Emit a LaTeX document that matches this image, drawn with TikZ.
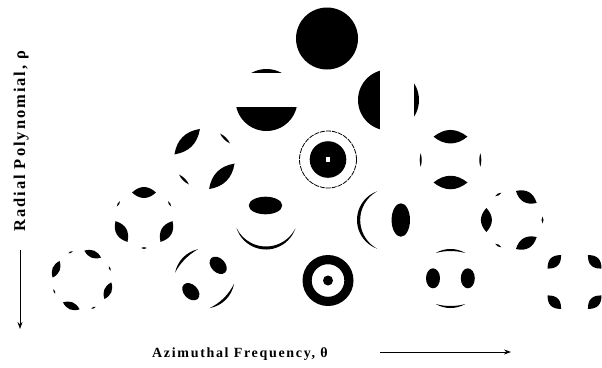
\documentclass[tikz,border=0pt]{standalone}
\usepackage{fontspec}
\setmainfont{Liberation Serif}
\newfontfamily\lblfont[LetterSpace=12]{Liberation Serif}
\usetikzlibrary{arrows.meta}

% tangential lens: disc centre x, y, polar angle (clockwise, image), distance, length, width
\newcommand\plens[6]{%
  \fill[shift={(#1,#2)},rotate=-#3,shift={(#4,0)},rotate=90] (-#5/2,0) .. controls (-#5/6,#6*2/3) and (#5/6,#6*2/3) .. (#5/2,0)
     .. controls (#5/6,-#6*2/3) and (-#5/6,-#6*2/3) .. cycle;}
% crescent at the rim: disc centre x, y, direction (clockwise, image), radius, half span, thickness
\newcommand\cresc[6]{%
  \pgfmathsetmacro\cresE{((#4-#6)^2-(#4)^2)/(2*(#4-#6-#4*cos(#5)))}%
  \pgfmathsetmacro\cresR{#4-#6-\cresE}%
  \pgfmathsetmacro\cresB{atan2(#4*sin(#5),#4*cos(#5)-\cresE)}%
  \fill[shift={(#1,#2)},rotate=-#3] (#5:#4) arc[start angle=#5,end angle=-#5,radius=#4]
     arc[start angle=-\cresB,end angle=\cresB,radius=\cresR] -- cycle;}

\tikzset{
  axislabel/.style={font=\lblfont\bfseries\fontsize{14}{16}\selectfont, inner sep=0pt},
  vaxislabel/.style={font=\lblfont\bfseries\fontsize{16.5}{18}\selectfont, inner sep=0pt},
  axisarrow/.style={line width=0.8pt, -{Stealth[length=7pt,width=5pt]}},
}

\begin{document}
\begin{tikzpicture}[x=1pt,y=-1pt]
\fill[white] (0,0) rectangle (602,367);
\useasboundingbox (0,0) rectangle (602,367);

% n = 0
\fill (327,38.5) circle (31);

% n = 1
\begin{scope}
  \clip (266.5,100) circle (31);
  \fill (230,107) rectangle (300,140);
  \fill (230,60) rectangle (300,73);
\end{scope}
\begin{scope}
  \clip (388.5,100) circle (30.5);
  \fill (350,60) rectangle (380,140);
  \fill (414,60) rectangle (430,140);
\end{scope}

% n = 2
\plens{204.5}{159}{-135}{24.5}{36}{13}
\plens{204.5}{159}{45}{24.5}{36}{13}
\plens{204.5}{159}{-45}{29}{14}{2.5}
\plens{204.5}{159}{135}{29}{14}{2.5}

\fill (328,159.5) circle (18.3);
\fill[white] (325.8,157.3) rectangle (330.2,161.7);
\draw[line width=0.8pt, dash pattern=on 5pt off 1pt] (328,159.5) circle (28.5);

\plens{450.5}{160}{-90}{23.3}{34}{13.5}
\plens{450.5}{160}{90}{22.5}{34}{13.5}
\plens{450.5}{160}{0}{29.8}{13.7}{2}
\plens{450.5}{160}{180}{29.8}{13.7}{2}

% n = 3
\plens{144}{218.5}{-90}{26}{24}{11}
\plens{144}{218.5}{150}{26}{24}{11}
\plens{144}{218.5}{30}{26}{24}{11}
\plens{144}{218.5}{-30}{29.5}{6}{1.8}
\plens{144}{218.5}{-150}{29.5}{6}{1.8}
\plens{144}{218.5}{90}{29.5}{6}{1.8}

\fill (265.5,205.5) ellipse [x radius=16.7, y radius=8.8];
\cresc{266}{218.5}{90}{31}{72}{3}

\fill (400.8,220) ellipse [x radius=9.2, y radius=16.7];
\cresc{387.5}{220}{180}{30.5}{70}{3.2}

\plens{513}{220}{180}{26.6}{24}{11}
\plens{513}{220}{-60}{26.6}{24}{11}
\plens{513}{220}{60}{26.6}{24}{11}
\plens{513}{220}{0}{29.5}{7}{2}
\plens{513}{220}{120}{29.5}{7}{2}
\plens{513}{220}{-120}{29.5}{7}{2}

% n = 4
\plens{82}{280}{-67.5}{28}{18}{7.5}
\plens{82}{280}{-157.5}{28}{18}{7.5}
\plens{82}{280}{112.5}{28}{18}{7.5}
\plens{82}{280}{22.5}{28}{18}{7.5}
\plens{82}{280}{-22.5}{30}{5}{1.6}
\plens{82}{280}{-112.5}{30}{5}{1.6}
\plens{82}{280}{157.5}{30}{5}{1.6}
\plens{82}{280}{67.5}{30}{5}{1.6}

\fill[shift={(204.5,278.5)},rotate=44] (19,0) ellipse [x radius=7, y radius=10];
\fill[shift={(204.5,278.5)},rotate=-136] (19,0) ellipse [x radius=7, y radius=10];
\cresc{204.5}{278.5}{-135.5}{30}{33}{2.5}
\cresc{204.5}{278.5}{45}{30}{35}{2.5}

\fill[even odd rule] (328,280.5) circle (25.5) (328,280.5) circle (16.3);
\fill (328,280.5) circle (5);

\fill (433,278.3) ellipse [x radius=7, y radius=10];
\fill (467.8,278.3) ellipse [x radius=7, y radius=10];
\cresc{450.5}{278.5}{-90}{29.5}{30}{2}
\cresc{450.5}{278.5}{90}{29.5}{30}{2}

\plens{574.5}{282}{-135}{28.5}{19}{10}
\plens{574.5}{282}{-45}{28.5}{19}{10}
\plens{574.5}{282}{45}{28.5}{19}{10}
\plens{574.5}{282}{135}{28.5}{19}{10}

% axis labels
\node[axislabel, anchor=base west] (hlabel) at (152,357) {Azimuthal Frequency, θ};
\coordinate (hstart) at (380,352);
\coordinate (hend) at (511,352);
\draw[axisarrow] (hstart) -- (hend);

\node[vaxislabel, rotate=90, anchor=base west] (vlabel) at (25,232) {Radial Polynomial, ρ};
\coordinate (vstart) at (20,250);
\coordinate (vend) at (20,329);
\draw[axisarrow] (vstart) -- (vend);
\end{tikzpicture}
\end{document}
